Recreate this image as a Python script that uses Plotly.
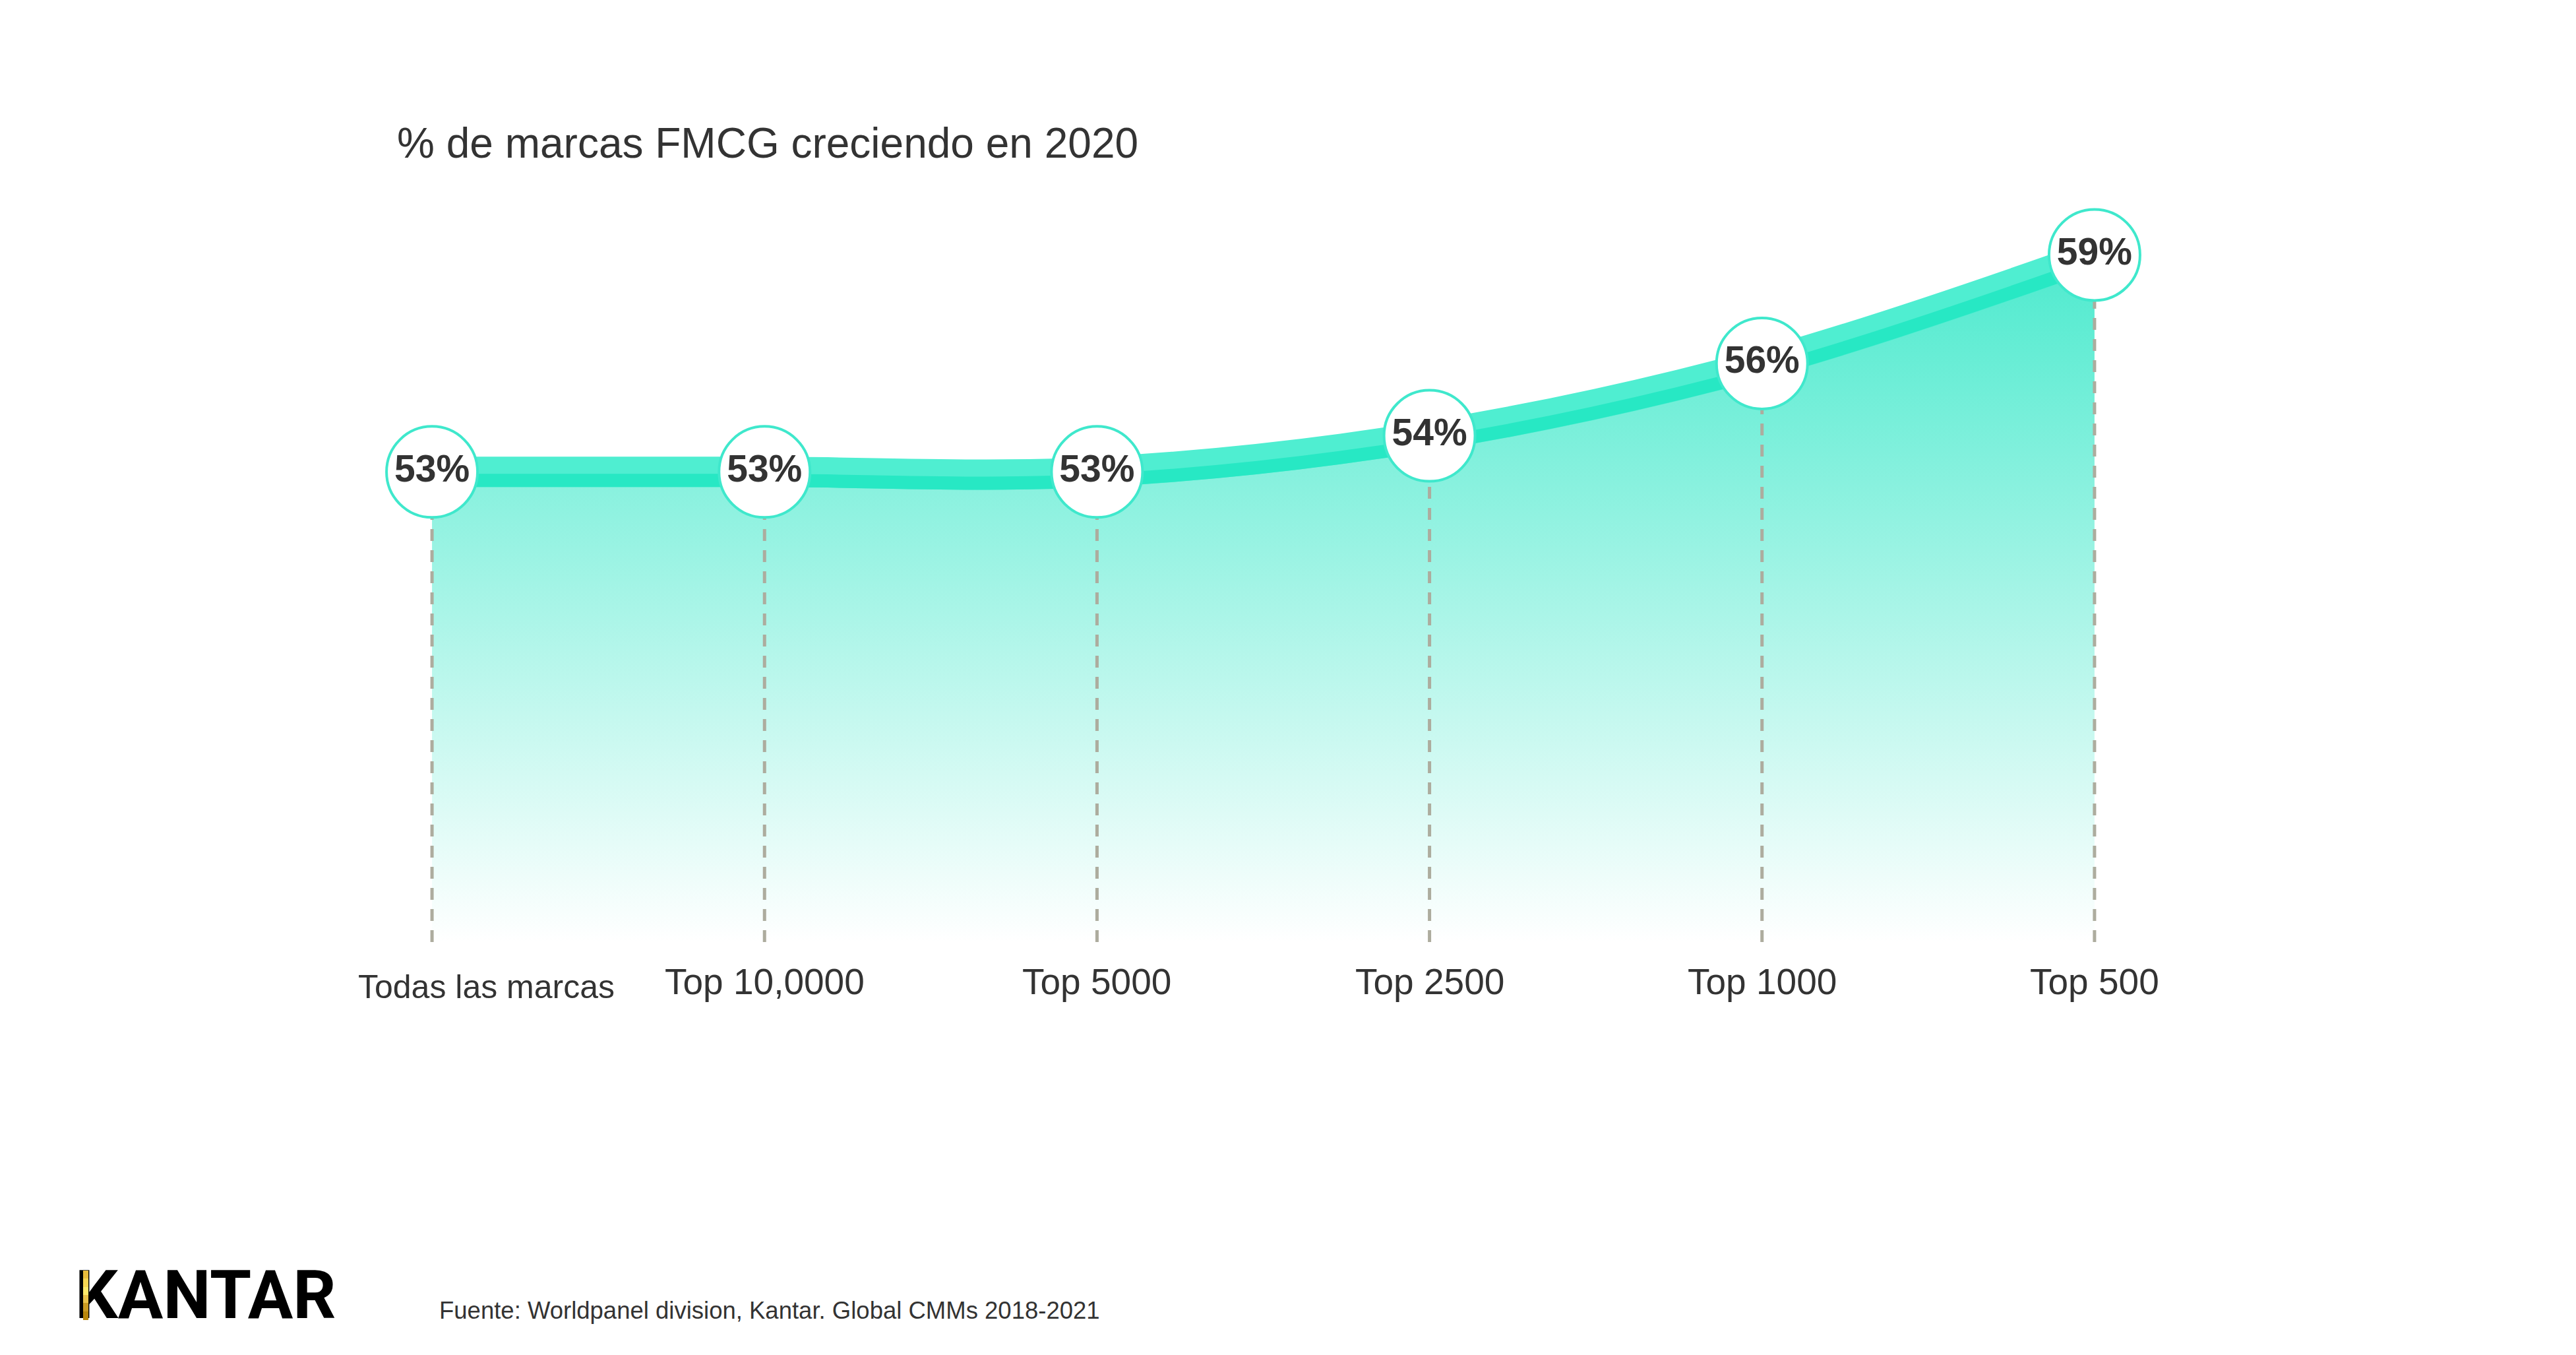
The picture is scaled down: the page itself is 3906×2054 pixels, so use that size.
import plotly.graph_objects as go

# ---------------- data ----------------
categories = ["Todas las marcas", "Top 10,0000", "Top 5000", "Top 2500", "Top 1000", "Top 500"]
values = [53, 53, 53, 54, 56, 59]
label_text = [f"{v}%" for v in values]
title_text = "% de marcas FMCG creciendo en 2020"
source_text = "Fuente: Worldpanel division, Kantar. Global CMMs 2018-2021"

# ---------------- layout constants (page pixels) ----------------
PAGE_W, PAGE_H = 3906, 2054
OFF = 8
W, H = PAGE_W - 2 * OFF, PAGE_H - 2 * OFF
PLOT_L, PLOT_R, PLOT_T, PLOT_B = 403, 3428, 222, 1428
ML = PLOT_L - OFF
MR = W - (PLOT_R - OFF)
MT = PLOT_T - OFF
MB = H - (PLOT_B - OFF)
Y_FLOOR, Y_TOP = 40, 62
PX_PER_UNIT = (PLOT_B - PLOT_T) / (Y_TOP - Y_FLOOR)

TEXT = "#333333"
LIGHT = "#4FEED1"
DARK = "#27E8C4"
RING = "#3FE8CC"
DASH = "#ADAC9E"
FONT = "Liberation Sans, Arial, sans-serif"


def px_x(px):
    return (px - OFF - ML) / (W - ML - MR)


def px_y(py):
    return (H - MB - (py - OFF)) / (H - MT - MB)


dark_offset = 13 / PX_PER_UNIT

fig = go.Figure()

# baseline for the area fill
fig.add_trace(go.Scatter(x=categories, y=[Y_FLOOR] * len(categories), mode="lines",
                         line=dict(width=0), hoverinfo="skip", showlegend=False))
# gradient area
fig.add_trace(go.Scatter(x=categories, y=values, mode="lines",
                         line=dict(width=0, shape="spline", smoothing=1),
                         fill="tonexty",
                         fillgradient=dict(type="vertical", start=Y_FLOOR, stop=max(values),
                                           colorscale=[[0, "rgba(255,255,255,1)"], [1, "#4DEACE"]]),
                         hoverinfo="skip", showlegend=False))

# dashed drop lines
for c, v in zip(categories, values):
    fig.add_trace(go.Scatter(x=[c, c], y=[Y_FLOOR, v], mode="lines",
                             line=dict(color=DASH, width=5, dash="18px,14px"),
                             hoverinfo="skip", showlegend=False))

# thick two-tone line
fig.add_trace(go.Scatter(x=categories, y=values, mode="lines",
                         line=dict(color=LIGHT, width=46, shape="spline", smoothing=1),
                         hoverinfo="skip", showlegend=False))
fig.add_trace(go.Scatter(x=categories, y=[v - dark_offset for v in values], mode="lines",
                         line=dict(color=DARK, width=20, shape="spline", smoothing=1),
                         hoverinfo="skip", showlegend=False))

# circles with labels
fig.add_trace(go.Scatter(x=categories, y=values, mode="markers+text",
                         marker=dict(size=138, color="white", line=dict(color=RING, width=4)),
                         text=label_text, textposition="middle center",
                         textfont=dict(family=FONT, size=57, color=TEXT, weight="bold"),
                         cliponaxis=False, hoverinfo="skip", showlegend=False))

annotations = []
# category labels
for i, c in enumerate(categories):
    first = i == 0
    annotations.append(dict(x=c, xref="x", y=Y_FLOOR, yref="y", text=c, showarrow=False,
                            xanchor="center", yanchor="middle",
                            xshift=82 if first else 0,
                            yshift=-(1496 - PLOT_B) if first else -(1488 - PLOT_B),
                            font=dict(family=FONT, size=50 if first else 55, color=TEXT)))
# title
annotations.append(dict(x=px_x(600), y=px_y(217), xref="paper", yref="paper", text=title_text,
                        showarrow=False, xanchor="left", yanchor="middle",
                        font=dict(family=FONT, size=64, color=TEXT)))
# source
annotations.append(dict(x=px_x(664), y=px_y(1986), xref="paper", yref="paper", text=source_text,
                        showarrow=False, xanchor="left", yanchor="middle",
                        font=dict(family=FONT, size=36.5, color=TEXT)))
# logo
annotations.append(dict(x=px_x(112), y=px_y(1963), xref="paper", yref="paper", text="KANTAR",
                        showarrow=False, xanchor="left", yanchor="middle",
                        font=dict(family="Roboto, Liberation Sans, sans-serif", size=102,
                                  color="#000000", weight="bold")))
# gold stripe on the K (drawn as small coloured annotation boxes above the text)
gold = ["#E9BC3C", "#F7D652", "#FDE96A", "#E8C24A", "#C99A22", "#B8860B"]
seg = 74 / len(gold)
for k, g in enumerate(gold):
    y_top = 1926 + k * seg
    annotations.append(dict(x=px_x(126), y=px_y(y_top), xref="paper", yref="paper", text=" ",
                            showarrow=False, xanchor="left", yanchor="top",
                            width=8, height=seg + 0.5, bgcolor=g, borderpad=0, borderwidth=0,
                            font=dict(size=1)))

fig.update_layout(
    width=W, height=H,
    margin=dict(l=ML, r=MR, t=MT, b=MB),
    paper_bgcolor="white", plot_bgcolor="white",
    xaxis=dict(type="category", range=[-0.5, len(categories) - 0.5], showticklabels=False,
               showgrid=False, zeroline=False, showline=False, ticks=""),
    yaxis=dict(range=[Y_FLOOR, Y_TOP], showticklabels=False, showgrid=False,
               zeroline=False, showline=False, ticks=""),
    annotations=annotations,
    showlegend=False,
)

fig.write_html("out.html")
